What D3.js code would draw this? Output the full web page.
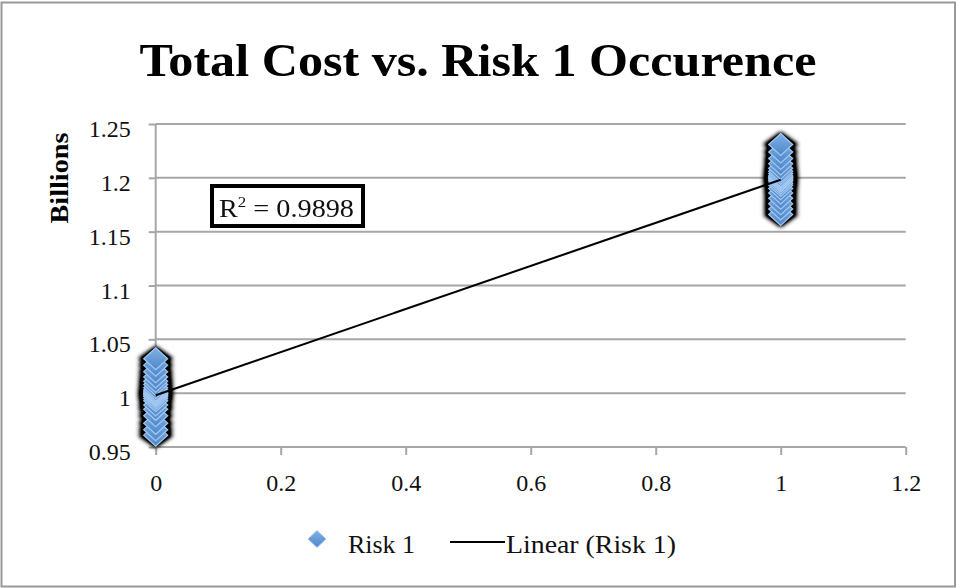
<!DOCTYPE html>
<html><head><meta charset="utf-8">
<script src="https://cdn.jsdelivr.net/npm/d3@7"></script>
<style>body{margin:0;background:#fff}svg{display:block}</style>
</head><body>
<script>
const titleText = "Total Cost vs. Risk 1 Occurence";
const yAxisTitle = "Billions";
const xTicks = [0, 0.2, 0.4, 0.6, 0.8, 1, 1.2];
const yTicks = [0.95, 1, 1.05, 1.1, 1.15, 1.2, 1.25];
const yTickLabels = ["0.95", "1", "1.05", "1.1", "1.15", "1.2", "1.25"];
const xTickLabels = ["0", "0.2", "0.4", "0.6", "0.8", "1", "1.2"];
const seriesName = "Risk 1";
const trendName = "Linear (Risk 1)";
const r2Label = "0.9898";
// Risk 1 occurrence (0 = no, 1 = yes) and total cost (billions)
const occur0 = [0.961, 0.966, 0.972, 0.979, 0.985, 0.989, 0.993, 0.995, 0.997, 0.998, 0.999, 1.0, 1.0, 1.001, 1.002, 1.003, 1.005, 1.008, 1.011, 1.015, 1.02, 1.026, 1.032];
const occur1 = [1.166, 1.171, 1.176, 1.181, 1.186, 1.19, 1.193, 1.195, 1.197, 1.198, 1.199, 1.2, 1.2, 1.201, 1.202, 1.204, 1.206, 1.209, 1.213, 1.218, 1.224, 1.231];

const W = 956, H = 588;
const svg = d3.select("body").append("svg").attr("width", W).attr("height", H);
const serif = "'Liberation Serif', serif";

svg.append("rect").attr("x", 1.5).attr("y", 2.5).attr("width", 953.5).attr("height", 584)
  .attr("fill", "#fff").attr("stroke", "#999").attr("stroke-width", 2);

const x = d3.scaleLinear().domain([0, 1.2]).range([155.7, 905.7]);
const y = d3.scaleLinear().domain([0.95, 1.25]).range([447, 124]);

const defs = svg.append("defs");
const f = defs.append("filter").attr("id", "sh").attr("x", "-50%").attr("y", "-50%").attr("width", "200%").attr("height", "200%");
f.append("feGaussianBlur").attr("in", "SourceGraphic").attr("stdDeviation", 2).attr("result", "b");
f.append("feComponentTransfer").attr("in", "b")
  .append("feFuncA").attr("type", "linear").attr("slope", 1.5);
const g = defs.append("linearGradient").attr("id", "dg").attr("x1", 0).attr("y1", 0).attr("x2", 0).attr("y2", 1);
g.append("stop").attr("offset", "0%").attr("stop-color", "#80b1e6");
g.append("stop").attr("offset", "100%").attr("stop-color", "#4d86ca");

// gridlines
svg.append("g").selectAll("line").data(yTicks.slice(1)).join("line")
  .attr("x1", x(0)).attr("x2", x(1.2)).attr("y1", d => y(d)).attr("y2", d => y(d))
  .attr("stroke", "#a6a6a6").attr("stroke-width", 2);

// axes
const yAxis = d3.axisLeft(y).tickValues(yTicks).tickFormat((d, i) => yTickLabels[i]).tickSize(7).tickPadding(18);
const ya = svg.append("g").attr("transform", `translate(${x(0)},0)`).call(yAxis);
const xAxis = d3.axisBottom(x).tickValues(xTicks).tickFormat((d, i) => xTickLabels[i]).tickSize(8).tickPadding(0);
const xa = svg.append("g").attr("transform", `translate(0,${y(0.95)})`).call(xAxis);
[ya, xa].forEach(a => {
  a.select(".domain").attr("stroke", "#a6a6a6").attr("stroke-width", 2);
  a.selectAll(".tick line").attr("stroke", "#a6a6a6").attr("stroke-width", 2);
  a.selectAll("text").attr("font-family", serif).attr("font-size", 24).attr("fill", "#111");
});
ya.select(".domain").attr("d", `M0,${y(1.25)}V${y(0.95)}`);
ya.selectAll(".tick text").attr("dy", 0).attr("y", 12.5);
xa.select(".domain").attr("d", `M${x(0)},0H${x(1.2)}`);
xa.selectAll(".tick text").attr("dy", 0).attr("y", 44);

// trendline (least squares)
const pts = occur0.map(v => [0, v]).concat(occur1.map(v => [1, v]));
const mx = d3.mean(pts, p => p[0]), my = d3.mean(pts, p => p[1]);
const slope = d3.sum(pts, p => (p[0] - mx) * (p[1] - my)) / d3.sum(pts, p => (p[0] - mx) ** 2);
const icpt = my - slope * mx;

const dPath = (hw, hh) => `M0,${-hh}L${hw},0L0,${hh}L${-hw},0Z`;
const shadowLayer = svg.append("g").attr("filter", "url(#sh)");
pts.forEach(p => {
  shadowLayer.append("path").attr("d", dPath(17.5, 12.5)).attr("transform", `translate(${x(p[0])},${y(p[1])})`)
    .attr("fill", "#000");
});
const mk = svg.append("g");
pts.forEach(p => {
  mk.append("path").attr("d", dPath(12, 11)).attr("transform", `translate(${x(p[0])},${y(p[1])})`)
    .attr("fill", "url(#dg)").attr("stroke", "#a3c8f0").attr("stroke-width", 1.2);
});

svg.append("line").attr("x1", x(0)).attr("x2", x(1)).attr("y1", y(icpt)).attr("y2", y(icpt + slope))
  .attr("stroke", "#000").attr("stroke-width", 2);

// R² box
const rb = svg.append("g");
rb.append("rect").attr("x", 212).attr("y", 186).attr("width", 151).attr("height", 40)
  .attr("fill", "#fff").attr("stroke", "#000").attr("stroke-width", 4);
const rt = rb.append("text").attr("x", 219).attr("y", 217)
  .attr("font-family", serif).attr("font-size", 25).attr("fill", "#111")
  .attr("textLength", 135).attr("lengthAdjust", "spacingAndGlyphs");
rt.append("tspan").text("R");
rt.append("tspan").attr("font-size", 15).attr("dy", -10).text("2");
rt.append("tspan").attr("dy", 10).text(" = " + r2Label);

// title
svg.append("text").attr("x", 478).attr("y", 76).attr("text-anchor", "middle")
  .attr("font-family", serif).attr("font-weight", "bold").attr("font-size", 46)
  .attr("textLength", 677).attr("lengthAdjust", "spacingAndGlyphs").text(titleText);

// y axis title
svg.append("text").attr("transform", "translate(68,178) rotate(-90)").attr("text-anchor", "middle")
  .attr("font-family", serif).attr("font-weight", "bold").attr("font-size", 25)
  .attr("textLength", 91).attr("lengthAdjust", "spacingAndGlyphs").text(yAxisTitle);

// legend
const lg = svg.append("g");
lg.append("path").attr("d", dPath(9, 8.5))
  .attr("transform", "translate(317,539)").attr("fill", "url(#dg)").attr("stroke", "#a3c8f0");
lg.append("text").attr("x", 348).attr("y", 553).attr("font-family", serif).attr("font-size", 25).attr("fill", "#111")
  .attr("textLength", 67).attr("lengthAdjust", "spacingAndGlyphs").text(seriesName);
lg.append("line").attr("x1", 450).attr("x2", 505).attr("y1", 542).attr("y2", 542).attr("stroke", "#000").attr("stroke-width", 2);
lg.append("text").attr("x", 506).attr("y", 553).attr("font-family", serif).attr("font-size", 25).attr("fill", "#111")
  .attr("textLength", 170).attr("lengthAdjust", "spacingAndGlyphs").text(trendName);
</script>
</body></html>
